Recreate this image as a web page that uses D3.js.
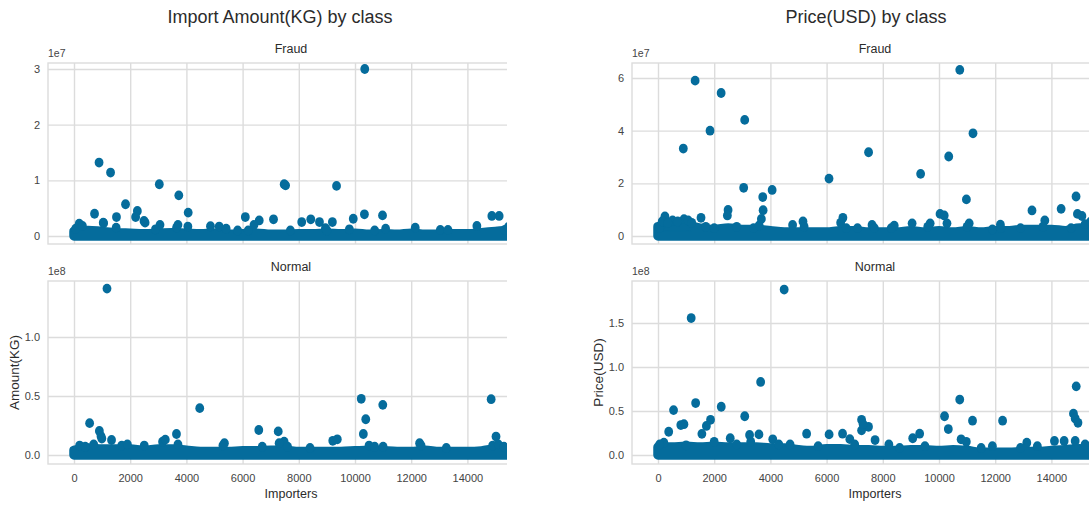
<!DOCTYPE html>
<html>
<head>
<meta charset="utf-8">
<script src="https://cdn.jsdelivr.net/npm/d3@7/dist/d3.min.js"></script>
<style>
  body { margin: 0; background: #fff; }
  svg text { font-family: "Liberation Sans", Arial, sans-serif; }
</style>
</head>
<body>
<script>
'use strict';

// importer ids where the top of the dense cluster near zero was read
const bandIds = [0, 500, 1000, 1500, 2000, 2500, 3000, 3500, 4000, 4500, 5000, 5500,
  6000, 6500, 7000, 7500, 8000, 8500, 9000, 9500, 10000, 10500, 11000, 11500,
  12000, 12500, 13000, 13500, 14000, 14500, 15000, 15500, 16000];

// Import Amount(KG) - Fraud
const fraudAmountBand = [0.8e6, 1.0e6, 0.8e6, 0.6e6, 0.5e6, 0.4e6, 0.5e6, 0.6e6, 0.5e6, 0.4e6, 0.5e6, 0.3e6,
  0.4e6, 0.5e6, 0.3e6, 0.3e6, 0.4e6, 0.4e6, 0.5e6, 0.4e6, 0.5e6, 0.3e6, 0.4e6, 0.3e6,
  0.5e6, 0.3e6, 0.3e6, 0.4e6, 0.4e6, 0.6e6, 0.8e6, 1.0e6, 0.8e6];
const fraudAmountPoints = [
  [10347, 3.0e7], [892, 1.32e7], [1301, 1.14e7], [3036, 0.93e7], [7480, 0.93e7], [7530, 0.91e7],
  [9343, 0.90e7], [3730, 0.73e7], [1834, 0.57e7], [2255, 0.45e7], [2193, 0.34e7], [2491, 0.27e7],
  [2530, 0.24e7], [1512, 0.34e7], [731, 0.40e7], [1041, 0.24e7], [4064, 0.42e7], [4052, 0.17e7],
  [3061, 0.20e7], [6097, 0.34e7], [6592, 0.28e7], [6406, 0.20e7], [7100, 0.30e7], [8104, 0.25e7],
  [8426, 0.30e7], [8736, 0.25e7], [9195, 0.25e7], [9938, 0.31e7], [10335, 0.39e7], [10979, 0.37e7],
  [11090, 0.13e7], [14870, 0.36e7], [15130, 0.36e7], [14337, 0.18e7], [12144, 0.15e7], [8947, 0.14e7],
  [186, 0.22e7], [60, 0.13e7], [300, 0.18e7], [1053, 0.23e7], [1500, 0.15e7], [3700, 0.20e7],
  [3650, 0.15e7], [2900, 0.12e7], [4857, 0.175e7], [5167, 0.17e7], [5415, 0.13e7], [5824, 0.10e7],
  [6200, 0.10e7], [7700, 0.10e7], [9000, 0.10e7], [9800, 0.12e7], [10700, 0.10e7], [13036, 0.11e7],
  [13308, 0.11e7], [15328, 0.11e7], [15452, 0.16e7]
];

// Price(USD) - Fraud
const fraudPriceBand = [3.5e6, 4e6, 4e6, 3e6, 2.5e6, 3e6, 2.5e6, 2.5e6, 2e6, 1.5e6, 1.5e6, 1.5e6,
  1.5e6, 2e6, 2e6, 1.5e6, 1.5e6, 1.5e6, 2e6, 1.5e6, 2e6, 1.5e6, 2e6, 1.5e6,
  2e6, 2e6, 2.5e6, 2.5e6, 2.5e6, 2e6, 3e6, 3e6, 3e6];
const fraudPricePoints = [
  [10740, 6.31e7], [1321, 5.9e7], [2247, 5.43e7], [3086, 4.41e7], [1852, 4.0e7], [11210, 3.9e7],
  [901, 3.32e7], [7494, 3.18e7], [10346, 3.02e7], [9346, 2.36e7], [6086, 2.18e7], [3049, 1.83e7],
  [4062, 1.75e7], [3728, 1.48e7], [10975, 1.39e7], [14877, 1.5e7], [13309, 0.97e7], [14346, 1.03e7],
  [14926, 0.84e7], [15086, 0.76e7], [3741, 0.98e7], [2494, 0.99e7], [2469, 0.78e7], [3679, 0.65e7],
  [6580, 0.69e7], [10037, 0.84e7], [10185, 0.78e7], [10284, 0.48e7], [13765, 0.59e7], [9043, 0.48e7],
  [9685, 0.48e7], [4790, 0.42e7], [5160, 0.55e7], [7617, 0.42e7], [8407, 0.39e7], [12185, 0.43e7],
  [11074, 0.48e7], [1531, 0.69e7], [247, 0.74e7], [519, 0.59e7], [926, 0.64e7], [1074, 0.59e7],
  [60, 0.30e7], [150, 0.55e7], [350, 0.50e7], [700, 0.55e7], [1200, 0.50e7], [1700, 0.35e7],
  [2000, 0.30e7], [2800, 0.35e7], [3400, 0.30e7], [3600, 0.40e7], [5200, 0.35e7], [6500, 0.50e7],
  [6700, 0.30e7], [7100, 0.30e7], [7700, 0.30e7], [8300, 0.30e7], [9600, 0.35e7], [11000, 0.35e7],
  [11900, 0.25e7], [12200, 0.30e7], [12900, 0.30e7], [13700, 0.35e7], [14700, 0.30e7], [15200, 0.45e7],
  [15400, 0.55e7]
];

// Import Amount(KG) - Normal
const normalAmountBand = [4e6, 6e6, 5e6, 5e6, 5e6, 4e6, 5e6, 5e6, 4e6, 3e6, 3e6, 3e6,
  3.5e6, 3.5e6, 4e6, 4e6, 3e6, 3e6, 3e6, 3e6, 3.5e6, 4e6, 3.5e6, 3e6,
  3e6, 4e6, 3e6, 3e6, 3e6, 3.5e6, 5e6, 5e6, 5e6];
const normalAmountPoints = [
  [1174, 1.41e8], [556, 0.27e8], [903, 0.204e8], [960, 0.16e8], [990, 0.14e8], [1336, 0.127e8],
  [3152, 0.113e8], [3250, 0.13e8], [3647, 0.178e8], [4475, 0.397e8], [5353, 0.10e8], [6576, 0.212e8],
  [7268, 0.20e8], [7478, 0.113e8], [9209, 0.12e8], [9370, 0.133e8], [10222, 0.476e8], [10297, 0.178e8],
  [10383, 0.303e8], [10989, 0.425e8], [12299, 0.10e8], [14845, 0.473e8], [15018, 0.156e8],
  [200, 0.08e8], [400, 0.07e8], [700, 0.09e8], [1700, 0.08e8], [1900, 0.09e8], [2500, 0.08e8],
  [3700, 0.09e8], [5300, 0.08e8], [6700, 0.07e8], [7300, 0.10e8], [7600, 0.07e8], [8400, 0.06e8],
  [10500, 0.08e8], [10700, 0.07e8], [11000, 0.07e8], [12350, 0.08e8], [13250, 0.06e8], [14900, 0.08e8],
  [15100, 0.09e8], [15300, 0.07e8]
];

// Price(USD) - Normal
const normalPriceBand = [9e6, 9e6, 10e6, 9e6, 10e6, 9e6, 9e6, 9e6, 8e6, 8e6, 6e6, 5e6,
  7e6, 7e6, 6e6, 6e6, 5e6, 5e6, 6e6, 6e6, 5e6, 6e6, 5e6, 3e6,
  3e6, 3e6, 4e6, 4e6, 5e6, 6e6, 7e6, 6e6, 6e6];
const normalPricePoints = [
  [4490, 1.88e8], [1181, 1.556e8], [3653, 0.83e8], [14883, 0.78e8], [10738, 0.63e8], [1340, 0.59e8],
  [2251, 0.548e8], [554, 0.51e8], [3087, 0.44e8], [10197, 0.44e8], [14785, 0.47e8], [14846, 0.415e8],
  [14945, 0.366e8], [1870, 0.40e8], [11193, 0.39e8], [12263, 0.39e8], [7245, 0.40e8], [7491, 0.32e8],
  [7245, 0.28e8], [7300, 0.35e8], [1722, 0.33e8], [923, 0.35e8], [812, 0.34e8], [381, 0.264e8],
  [10332, 0.295e8], [1562, 0.24e8], [3259, 0.227e8], [3592, 0.234e8], [5289, 0.242e8], [6089, 0.234e8],
  [6568, 0.242e8], [9311, 0.242e8], [9065, 0.19e8], [7725, 0.17e8], [2571, 0.19e8], [10787, 0.178e8],
  [10972, 0.15e8], [209, 0.14e8], [4084, 0.178e8], [6827, 0.18e8], [8216, 0.12e8], [13124, 0.14e8],
  [14108, 0.16e8], [14453, 0.16e8], [14846, 0.16e8], [60, 0.12e8], [1000, 0.11e8], [2000, 0.15e8],
  [2800, 0.12e8], [3300, 0.15e8], [4300, 0.12e8], [4700, 0.12e8], [5700, 0.10e8], [7000, 0.12e8],
  [8600, 0.08e8], [9500, 0.10e8], [11500, 0.08e8], [11900, 0.10e8], [12900, 0.08e8], [13500, 0.10e8],
  [15200, 0.12e8]
];

const xTicks = [0, 2000, 4000, 6000, 8000, 10000, 12000, 14000];
const fraudAmountTicks = [0, 1e7, 2e7, 3e7];
const fraudPriceTicks = [0, 2e7, 4e7, 6e7];
const normalAmountTicks = [0, 0.5e8, 1e8];
const normalPriceTicks = [0, 0.5e8, 1e8, 1.5e8];

(function() {

  let svgWidth = 1089;
  let svgHeight = 505;
  let dotColor = '#056c9c';
  let gridColor = '#dcdcdc';
  let plotW = 486;     // full axes width (the picture is cut at the right)
  let visW = 459;      // visible part of each axes
  let xDomain = [-925, 16370];

  window.onload = function() {
    let svg = d3.select('body')
      .append('svg')
        .attr('width', svgWidth)
        .attr('height', svgHeight);

    let panels = [
      { id: 'fa', left: 48, top: 63, height: 181, yDomain: [-0.1437e7, 3.108e7], ticks: fraudAmountTicks,
        fmt: d3.format('.0f'), scale: 1e7, expLabel: '1e7', band: fraudAmountBand, points: fraudAmountPoints,
        sub: 'Fraud' },
      { id: 'fp', left: 632, top: 63, height: 181, yDomain: [-0.304e7, 6.57e7], ticks: fraudPriceTicks,
        fmt: d3.format('.0f'), scale: 1e7, expLabel: '1e7', band: fraudPriceBand, points: fraudPricePoints,
        sub: 'Fraud' },
      { id: 'na', left: 48, top: 281, height: 183, yDomain: [-0.0763e8, 1.4746e8], ticks: normalAmountTicks,
        fmt: d3.format('.1f'), scale: 1e8, expLabel: '1e8', band: normalAmountBand, points: normalAmountPoints,
        sub: 'Normal', xLabels: true, yLabel: 'Amount(KG)' },
      { id: 'np', left: 632, top: 281, height: 183, yDomain: [-0.1023e8, 1.977e8], ticks: normalPriceTicks,
        fmt: d3.format('.1f'), scale: 1e8, expLabel: '1e8', band: normalPriceBand, points: normalPricePoints,
        sub: 'Normal', xLabels: true, yLabel: 'Price(USD)' }
    ];

    panels.forEach((p) => drawPanel(svg, p));

    // column titles
    makeTitle(svg, 280, 23, 'Import Amount(KG) by class');
    makeTitle(svg, 866, 23, 'Price(USD) by class');
  }

  function makeTitle(svg, x, y, label) {
    svg.append('text')
      .attr('x', x)
      .attr('y', y)
      .attr('text-anchor', 'middle')
      .attr('fill', '#2b2b2b')
      .style('font-size', '18px')
      .text(label);
  }

  function drawPanel(svg, p) {
    let bottom = p.top + p.height;

    let xScale = d3.scaleLinear().domain(xDomain).range([p.left, p.left + plotW]);
    let yScale = d3.scaleLinear().domain(p.yDomain).range([bottom, p.top]);

    svg.append('clipPath')
      .attr('id', 'clip-' + p.id)
      .append('rect')
        .attr('x', p.left - 2)
        .attr('y', p.top - 2)
        .attr('width', visW + 2)
        .attr('height', p.height + 4);

    let g = svg.append('g').attr('clip-path', 'url(#clip-' + p.id + ')');

    // horizontal grid
    let yGrid = d3.axisLeft(yScale).tickValues(p.ticks).tickSize(-plotW).tickFormat('');
    g.append('g')
      .attr('class', 'grid')
      .attr('transform', 'translate(' + p.left + ', 0)')
      .call(yGrid);

    // vertical grid
    let xGrid = d3.axisBottom(xScale).tickValues(xTicks).tickSize(-p.height).tickFormat('');
    g.append('g')
      .attr('class', 'grid')
      .attr('transform', 'translate(0, ' + bottom + ')')
      .call(xGrid);

    g.selectAll('.grid .domain').remove();
    g.selectAll('.grid line')
      .attr('stroke', gridColor)
      .attr('stroke-width', 1.4);

    // axes frame
    g.append('rect')
      .attr('x', p.left)
      .attr('y', p.top)
      .attr('width', plotW)
      .attr('height', p.height)
      .attr('fill', 'none')
      .attr('stroke', gridColor)
      .attr('stroke-width', 1.4);

    // dense cluster of points close to zero
    let area = d3.area()
      .x((d) => xScale(d[0]))
      .y0(yScale(0))
      .y1((d) => yScale(d[1]))
      .curve(d3.curveMonotoneX);

    g.append('path')
      .datum(d3.zip(bandIds, p.band))
      .attr('d', area)
      .attr('fill', dotColor)
      .attr('stroke', dotColor)
      .attr('stroke-width', 9.5)
      .attr('stroke-linejoin', 'round');

    g.selectAll('.dot')
      .data(p.points)
      .enter()
      .append('ellipse')
        .attr('class', 'dot')
        .attr('cx', (d) => xScale(d[0]))
        .attr('cy', (d) => yScale(d[1]))
        .attr('rx', 4.4)
        .attr('ry', 4.9)
        .attr('fill', dotColor);

    // y tick labels
    let yAxis = d3.axisLeft(yScale)
      .tickValues(p.ticks)
      .tickSize(0)
      .tickPadding(8)
      .tickFormat((d) => p.fmt(d / p.scale));
    let ya = svg.append('g')
      .attr('transform', 'translate(' + p.left + ', 0)')
      .call(yAxis);
    styleAxis(ya);

    // offset label
    svg.append('text')
      .attr('x', p.left)
      .attr('y', p.top - 6)
      .attr('fill', '#444')
      .style('font-size', '10.5px')
      .text(p.expLabel);

    // subplot title
    svg.append('text')
      .attr('x', p.left + 243)
      .attr('y', p.top - 10)
      .attr('text-anchor', 'middle')
      .attr('fill', '#2b2b2b')
      .style('font-size', '12.5px')
      .text(p.sub);

    if (p.xLabels) {
      let xAxis = d3.axisBottom(xScale)
        .tickValues(xTicks)
        .tickSize(0)
        .tickPadding(10)
        .tickFormat(d3.format('d'));
      let xa = svg.append('g')
        .attr('transform', 'translate(0, ' + bottom + ')')
        .call(xAxis);
      styleAxis(xa);

      svg.append('text')
        .attr('x', p.left + 243)
        .attr('y', 498)
        .attr('text-anchor', 'middle')
        .attr('fill', '#2b2b2b')
        .style('font-size', '12.5px')
        .text('Importers');

      svg.append('text')
        .attr('transform', 'translate(' + (p.left - 29) + ', ' + (p.top + p.height / 2) + ')rotate(-90)')
        .attr('text-anchor', 'middle')
        .attr('fill', '#2b2b2b')
        .style('font-size', '13.5px')
        .text(p.yLabel);
    }
  }

  function styleAxis(axisG) {
    axisG.select('.domain').remove();
    axisG.selectAll('text')
      .attr('fill', '#444')
      .style('font-size', '11px')
      .style('font-family', '"Liberation Sans", Arial, sans-serif');
  }

})();
</script>
</body>
</html>
